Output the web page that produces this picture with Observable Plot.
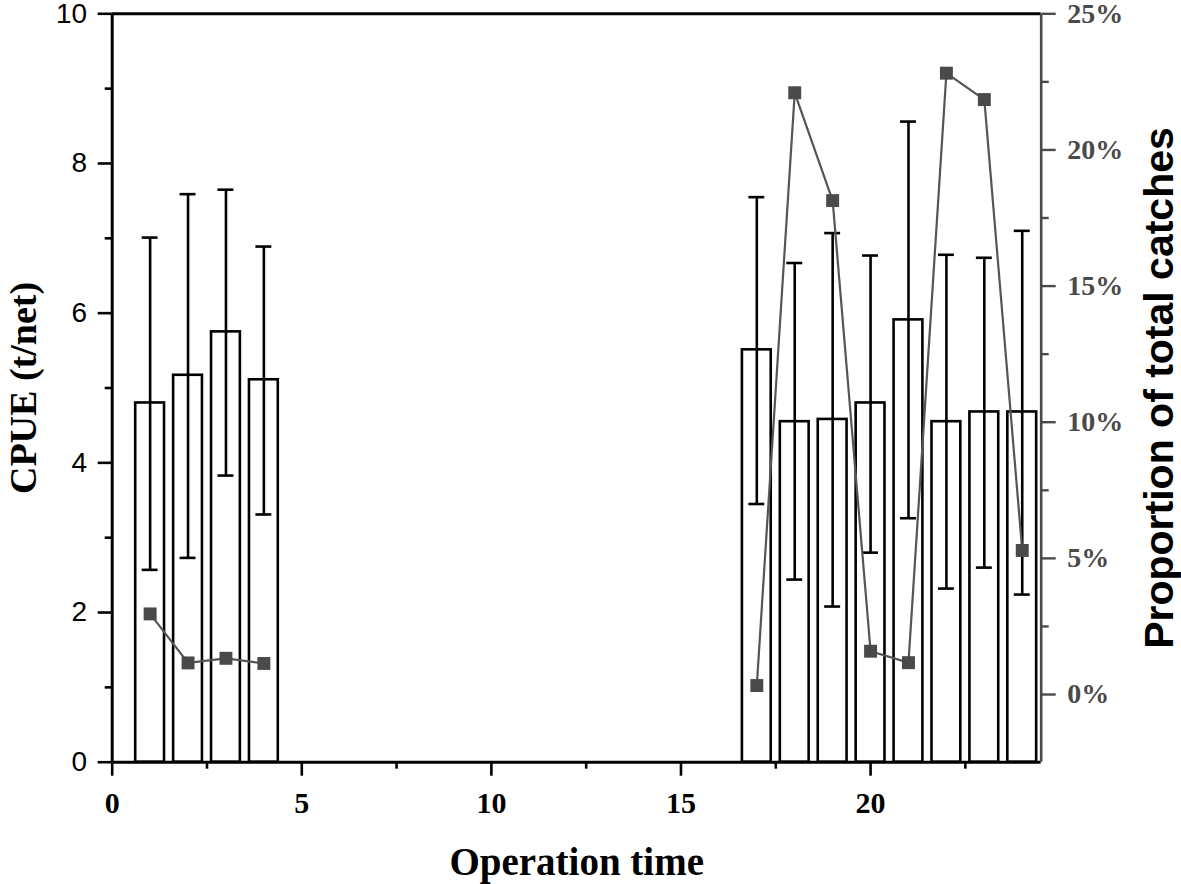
<!DOCTYPE html>
<html><head><meta charset="utf-8">
<script src="https://cdn.jsdelivr.net/npm/d3@7"></script>
<script src="https://cdn.jsdelivr.net/npm/@observablehq/plot@0.6"></script>
<style>
html,body{margin:0;padding:0;background:#fff;}
#chart svg{display:block;}
</style>
</head><body>
<div id="chart"></div>
<script>
// ---- data ----
const operationTime = [1, 2, 3, 4, 17, 18, 19, 20, 21, 22, 23, 24];
const cpue      = [4.80, 5.17, 5.75, 5.11, 5.51, 4.55, 4.58, 4.80, 5.91, 4.55, 4.68, 4.68];
const cpueUpper = [7.01, 7.59, 7.65, 6.89, 7.55, 6.67, 7.07, 6.77, 8.56, 6.78, 6.74, 7.10];
const cpueLower = [2.57, 2.73, 3.83, 3.31, 3.45, 2.44, 2.08, 2.80, 3.26, 2.32, 2.60, 2.24];
const proportion = [2.96, 1.16, 1.33, 1.14, 0.33, 22.10, 18.14, 1.59, 1.17, 22.82, 21.85, 5.29]; // %
const period = ["early", "early", "early", "early", "late", "late", "late", "late", "late", "late", "late", "late"];

const xTicks = [0, 5, 10, 15, 20];
const xMinorTicks = [2.5, 7.5, 12.5, 17.5, 22.5];
const cpueTicks = [0, 2, 4, 6, 8, 10];
const cpueMinorTicks = [1, 3, 5, 7, 9];
const pctTicks = [0, 5, 10, 15, 20, 25];
const pctMinorTicks = [2.5, 7.5, 12.5, 17.5, 22.5];

const xDomain = [0, 24.5];
const cpueDomain = [0, 10];
const pctDomain = [-2.486, 25];

// secondary (right) axis mapped onto the primary y scale
const pctToCpue = d3.scaleLinear().domain(pctDomain).range(cpueDomain);

const rows = operationTime.map((t, i) => ({
  t, cpue: cpue[i], hi: cpueUpper[i], lo: cpueLower[i], pct: proportion[i], period: period[i]
}));

const barHalf = 0.38, capHalf = 0.21;
const serif = "'Liberation Serif', 'Times New Roman', serif";
const sans = "'Liberation Sans', Arial, sans-serif";
const lw = 2.6;
const grey = "#4a4a4a";

const chart = Plot.plot({
  width: 1181,
  height: 884,
  marginLeft: 111.7,
  marginRight: 140.3,
  marginTop: 13.3,
  marginBottom: 122.3,
  style: {background: "white", overflow: "visible", fontFamily: sans},
  x: {domain: xDomain},
  y: {domain: cpueDomain},
  marks: [
    // bars
    Plot.rectY(rows, {x1: d => d.t - barHalf, x2: d => d.t + barHalf, y1: 0, y2: "cpue",
      fill: "white", stroke: "black", strokeWidth: lw}),
    // error bars
    Plot.ruleX(rows, {x: "t", y1: "lo", y2: "hi", stroke: "black", strokeWidth: lw}),
    Plot.ruleY(rows, {y: "hi", x1: d => d.t - capHalf, x2: d => d.t + capHalf, stroke: "black", strokeWidth: lw}),
    Plot.ruleY(rows, {y: "lo", x1: d => d.t - capHalf, x2: d => d.t + capHalf, stroke: "black", strokeWidth: lw}),
    // proportion line
    Plot.line(rows, {x: "t", y: d => pctToCpue(d.pct), z: "period", stroke: "#555", strokeWidth: 2.2}),
    Plot.dot(rows, {x: "t", y: d => pctToCpue(d.pct), symbol: "square", r: 7.3, fill: grey, stroke: null}),
    // frame
    Plot.ruleY([cpueDomain[0]], {stroke: "black", strokeWidth: 3}),
    Plot.ruleY([cpueDomain[1]], {stroke: "black", strokeWidth: 3}),
    Plot.ruleX([xDomain[0]], {stroke: "black", strokeWidth: 3}),
    Plot.ruleX([xDomain[1]], {stroke: grey, strokeWidth: 2.6}),
    // left axis
    Plot.axisY(cpueTicks, {anchor: "left", tickSize: 14, tickPadding: 11, strokeWidth: lw,
      fontSize: 28, fontFamily: sans, label: null, tickFormat: d => String(d)}),
    Plot.axisY(cpueMinorTicks, {anchor: "left", tickSize: 7, strokeWidth: lw, label: null, tickFormat: () => ""}),
    // bottom axis
    Plot.axisX(xTicks, {anchor: "bottom", tickSize: 14, tickPadding: 15, strokeWidth: lw,
      fontSize: 30, fontFamily: serif, fontWeight: "bold", label: null, tickFormat: d => String(d)}),
    Plot.axisX(xMinorTicks, {anchor: "bottom", tickSize: 7, strokeWidth: lw, label: null, tickFormat: () => ""}),
    // right axis
    Plot.axisY(pctTicks.map(pctToCpue), {anchor: "right", tickSize: 14, tickPadding: 12, strokeWidth: 2.4,
      color: grey, fontSize: 28, fontFamily: serif, fontWeight: "bold", label: null,
      tickFormat: d => Math.round(pctToCpue.invert(d)) + "%"}),
    Plot.axisY(pctMinorTicks.map(pctToCpue), {anchor: "right", tickSize: 7, strokeWidth: 2.4, color: grey,
      label: null, tickFormat: () => ""}),
    // titles
    Plot.text(["Operation time"], {text: d => d, frameAnchor: "bottom", dy: 113, lineAnchor: "bottom",
      fontSize: 39, fontFamily: serif, fontWeight: "bold", fill: "black"}),
    Plot.text(["CPUE (t/net)"], {text: d => d, frameAnchor: "left", rotate: -90, dx: -76, lineAnchor: "bottom",
      textAnchor: "middle", fontSize: 38, fontFamily: serif, fontWeight: "bold", fill: "black"}),
    Plot.text(["Proportion of total catches"], {text: d => d, frameAnchor: "right", rotate: -90, dx: 132,
      lineAnchor: "bottom", textAnchor: "middle", fontSize: 41, fontFamily: sans, fontWeight: "bold", fill: "black"})
  ]
});

document.getElementById("chart").appendChild(chart);
</script>
</body></html>
